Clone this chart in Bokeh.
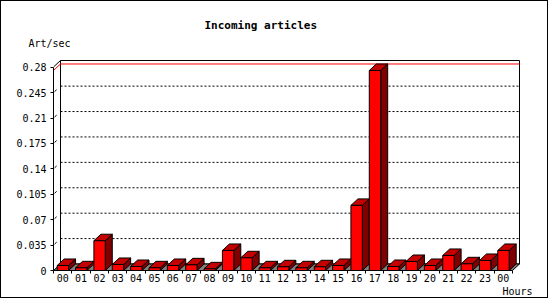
from bokeh.plotting import figure
from bokeh.models import Range1d, FixedTicker, Title
from bokeh.embed import file_html
from bokeh.resources import INLINE

# ---- data ----
hours = ["00", "01", "02", "03", "04", "05", "06", "07", "08", "09", "10", "11",
         "12", "13", "14", "15", "16", "17", "18", "19", "20", "21", "22", "23", "00"]
values = [0.0069, 0.0037, 0.0410, 0.0083, 0.0055, 0.0037, 0.0069, 0.0078, 0.0023,
          0.0276, 0.0175, 0.0037, 0.0051, 0.0037, 0.0051, 0.0069, 0.0897, 0.2755,
          0.0055, 0.0124, 0.0069, 0.0207, 0.0092, 0.0138, 0.0276]
yticks = [0, 0.035, 0.07, 0.105, 0.14, 0.175, 0.21, 0.245, 0.28]
ylabels = ["0", "0.035", "0.07", "0.105", "0.14", "0.175", "0.21", "0.245", "0.28"]
title_text = "Incoming articles"
y_title = "Art/sec"
x_title = "Hours"

# ---- geometry ----
CW, CH = 548, 298
FL, FT = 52, 56
FW, FH = 471, 213
SLOT_PX = 18.36
Y_PX = 726.0
DEPTH_X, DEPTH_Y = 7.0, 6.5

n = len(values)
dx = DEPTH_X / SLOT_PX
dy = DEPTH_Y / Y_PX
wall_top = 210 / Y_PX
x_end = FW / SLOT_PX
y_end = FH / Y_PX

MONO = "DejaVu Sans Mono"

p = figure(width=CW, height=CH, x_range=Range1d(0, x_end), y_range=Range1d(0, y_end),
           output_backend="svg", toolbar_location=None,
           min_border_left=FL, min_border_top=FT,
           min_border_right=CW - FL - FW, min_border_bottom=CH - FT - FH)
p.styles = {"border": "1px solid black"}
p.outline_line_color = None
p.xgrid.visible = False
p.ygrid.visible = False
p.background_fill_color = "white"
p.border_fill_color = "white"

# titles
p.title.text = title_text
p.title.align = "left"
p.title.offset = 151
p.title.text_font = MONO
p.title.text_font_size = "11px"
p.title.text_font_style = "bold"
p.title.text_color = "black"
p.title.standoff = 0
p.add_layout(Title(text=y_title, align="left", offset=-25, vertical_align="top",
                   text_font=MONO, text_font_size="10px", text_font_style="normal",
                   text_color="black", standoff=13), "above")
p.add_layout(Title(text=x_title, align="right", offset=-8, vertical_align="middle",
                   text_font=MONO, text_font_size="10px", text_font_style="normal",
                   text_color="black", standoff=0), "below")

# y axis
yax = p.yaxis[0]
yax.ticker = FixedTicker(ticks=yticks)
yax.major_label_overrides = {t: l for t, l in zip(yticks, ylabels)}
yax.bounds = (0, wall_top - dy)
yax.axis_line_color = "black"
yax.major_tick_out = 3
yax.major_tick_in = 0
yax.minor_tick_out = 0
yax.minor_tick_in = 0
yax.major_label_standoff = 4
yax.major_label_text_font = MONO
yax.major_label_text_font_size = "10px"
yax.major_label_text_color = "black"

# x axis
xax = p.xaxis[0]
centers = [i + 0.5 for i in range(n)]
xax.ticker = FixedTicker(ticks=centers, minor_ticks=list(range(n + 1)))
xax.major_label_overrides = {c: h for c, h in zip(centers, hours)}
xax.bounds = (0, n)
xax.axis_line_color = "black"
xax.major_tick_out = 0
xax.major_tick_in = 0
xax.minor_tick_out = 3
xax.minor_tick_in = 0
xax.minor_tick_line_color = "black"
xax.major_label_standoff = 0
xax.major_label_text_font = MONO
xax.major_label_text_font_size = "10px"
xax.major_label_text_color = "black"

# back wall
p.quad(left=[dx], right=[n + dx], bottom=[dy], top=[wall_top], fill_color=None,
       line_color="black", line_width=1)

# dotted gridlines on the back wall
grid_vals = yticks[1:-1]
p.segment(x0=[dx] * len(grid_vals), y0=[v + dy for v in grid_vals],
          x1=[n + dx] * len(grid_vals), y1=[v + dy for v in grid_vals],
          line_color="black", line_dash="2 2", line_width=1)
# small diagonal stubs on the side wall
p.segment(x0=[dx * 0.15] * len(grid_vals), y0=[v + dy * 0.15 for v in grid_vals],
          x1=[dx * 0.45] * len(grid_vals), y1=[v + dy * 0.45 for v in grid_vals],
          line_color="black", line_width=1)

# red max line
vmax = max(values)
p.segment(x0=[0, dx], y0=[vmax, vmax + dy], x1=[dx, n + dx], y1=[vmax + dy, vmax + dy],
          line_color="red", line_width=1)

# top-left diagonal of the side wall
p.segment(x0=[0], y0=[wall_top - dy], x1=[dx], y1=[wall_top], line_color="black", line_width=1)

# floor
p.patch(x=[0, n, n + dx, dx], y=[0, 0, dy, dy], fill_color="#808080",
        line_color="black", line_width=1)

# bars
L, R = 0.2, 0.82
side_xs, side_ys, top_xs, top_ys = [], [], [], []
for i, v in enumerate(values):
    side_xs.append([i + R, i + R + dx, i + R + dx, i + R])
    side_ys.append([0, dy, v + dy, v])
    top_xs.append([i + L, i + R, i + R + dx, i + L + dx])
    top_ys.append([v, v, v + dy, v + dy])
p.patches(xs=side_xs, ys=side_ys, fill_color="#800000", line_color="black", line_width=1)
p.patches(xs=top_xs, ys=top_ys, fill_color="#C40000", line_color="black", line_width=1)
p.quad(left=[i + L for i in range(n)], right=[i + R for i in range(n)],
       bottom=[0] * n, top=values, fill_color="#FF0000", line_color="black", line_width=1)

open("out.html", "w").write(file_html(p, INLINE))
